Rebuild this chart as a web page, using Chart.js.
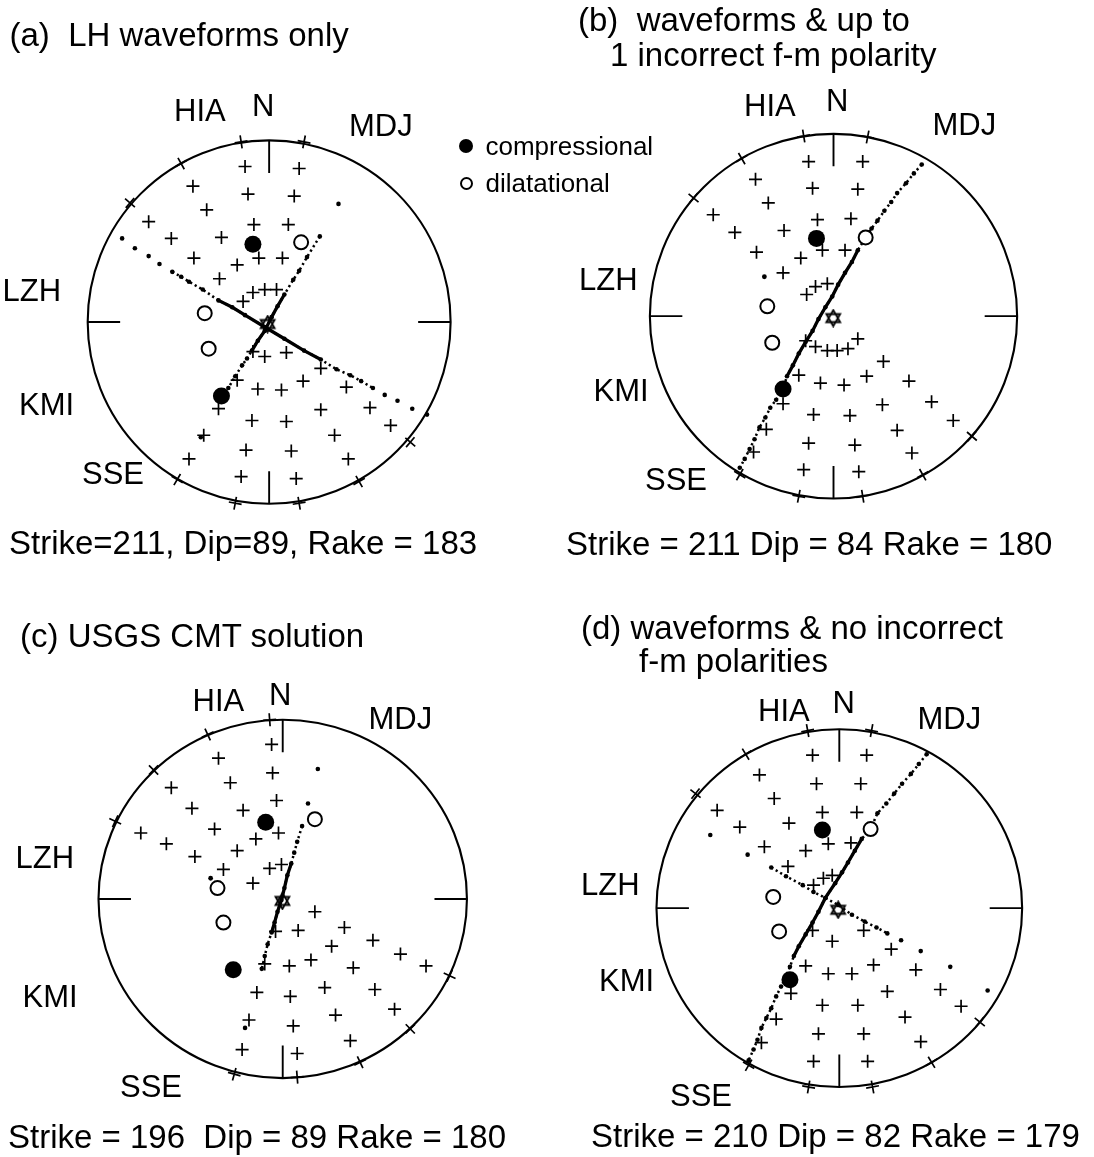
<!DOCTYPE html>
<html>
<head>
<meta charset="utf-8">
<script src="https://cdn.jsdelivr.net/npm/chart.js@4.4.0/dist/chart.umd.min.js"></script>
<style>
html,body{margin:0;padding:0;background:#fff;overflow:hidden;}
#wrap{position:relative;width:1094px;height:1157px;overflow:hidden;background:#fff;}
#c{position:absolute;left:0;top:0;}
.t{position:absolute;font-family:"Liberation Sans",Arial,Helvetica,sans-serif;color:#000;line-height:1;white-space:pre;}
.dot{position:absolute;border-radius:50%;box-sizing:border-box;}
</style>
</head>
<body>
<div id="wrap"><canvas id="c" width="1094" height="1157"></canvas></div>
<script>
// ===== DATA (projected positions of stations on each lower-hemisphere net, figure frame) =====
// Panel (a) LH waveforms only
const netA_plus = [[240,160],[295,162],[187,180],[243,188],[290,190],[201,204],[142,216],[249,219],[284,219],[216,232],[165,233],[188,253],[254,253],[278,253],[232,260],[214,274],[248,288],[260,285],[272,285],[238,297],[248,348],[260,353],[282,349],[317,365],[232,377],[253,386],[277,387],[299,378],[343,384],[213,406],[317,407],[367,405],[247,418],[282,419],[388,423],[198,433],[331,433],[241,448],[287,449],[183,457],[345,457],[236,475],[292,477]];
const netA_rim = [[236,135],[300,135],[175,157],[123,197],[171,478],[356,480],[408,440],[230,502],[295,502]];
const netA_comp = [[248,239],[216,393]];
const netA_dil = [[297,237],[199,309],[203,345]];
const netA_epic = [[263,320]];
const netA_plane1 = [[115,233],[128,243],[142,251],[153,259],[166,267],[175,272],[183,277],[197,285],[213,296],[227,303],[240,311],[260,323],[280,335],[300,347],[317,356],[333,366],[347,372],[358,378],[370,385],[382,392],[395,398],[410,406],[425,412]];
const netA_plane2 = [[335,198],[316,231],[303,252],[295,266],[289,275],[280,290],[273,302],[267,313],[260,327],[253,337],[247,347],[242,355],[237,362],[230,373],[223,385],[195,435]];
const netA_stray = [];

// Panel (b) waveforms & up to 1 incorrect f-m polarity
const netB_plus = [[813,155],[868,155],[759,173],[817,182],[863,183],[772,197],[716,209],[822,214],[856,213],[738,227],[788,225],[827,245],[850,245],[760,247],[805,253],[787,268],[820,282],[832,279],[811,290],[863,335],[810,337],[820,343],[832,347],[842,347],[853,345],[889,358],[803,372],[825,380],[849,382],[872,373],[915,378],[787,401],[888,402],[938,399],[818,412],[855,413],[960,418],[770,427],[903,428],[813,441],[860,443],[918,451],[757,450],[808,468],[864,470]];
const netB_rim = [[808,129],[873,130],[745,152],[696,192],[743,473],[929,473],[979,434],[803,495],[868,495]];
const netB_comp = [[821,233],[787,386]];
const netB_dil = [[871,232],[771,302],[776,339]];
const netB_epic = [[838,314]];
const netB_plane1 = [[928,158],[920,167],[912,177],[903,187],[897,196],[890,205],[883,215],[877,223],[871,232],[863,245],[857,257],[850,268],[843,280],[837,292],[830,303],[823,315],[817,327],[810,338],[803,350],[797,362],[791,373],[787,386],[780,397],[774,405],[769,415],[763,425],[758,437],[753,447],[748,457],[743,466]];
const netB_stray = [[768,272]];

// Panel (c) USGS CMT solution
const netC_plus = [[267,747],[213,761],[268,776],[225,786],[165,791],[272,804],[186,812],[238,814],[134,837],[209,833],[274,837],[160,848],[251,843],[232,855],[189,861],[218,874],[265,873],[277,869],[248,888],[311,917],[271,937],[294,936],[341,933],[328,952],[370,946],[398,960],[424,972],[260,970],[285,972],[307,966],[350,974],[252,999],[286,1003],[321,994],[372,996],[332,1022],[392,1016],[244,1027],[289,1033],[347,1048],[237,1057],[293,1061]];
const netC_rim = [[265,722],[202,737],[147,773],[108,825],[448,982],[408,1036],[357,1070],[229,1082],[293,1085]];
const netC_comp = [[261,826],[228,976]];
const netC_dil = [[311,823],[212,893],[218,928]];
const netC_epic = [[278,906]];
const netC_plane1 = [[314,772],[304,807],[298,830],[293,846],[290,857],[287,868],[283,880],[280,893],[277,905],[273,917],[270,928],[267,938],[263,950],[260,962],[257,975],[240,1035]];
const netC_stray = [[205,883]];

// Panel (d) waveforms & no incorrect f-m polarities
const netD_plus = [[817,758],[872,758],[763,778],[821,787],[866,787],[778,802],[720,814],[827,816],[862,816],[743,831],[793,827],[833,848],[856,847],[768,851],[810,855],[792,871],[828,883],[837,880],[818,890],[817,936],[869,936],[837,947],[897,955],[810,972],[833,980],[857,980],[879,971],[922,976],[795,1000],[893,998],[947,996],[827,1012],[863,1012],[968,1013],[780,1026],[911,1024],[823,1041],[869,1041],[927,1049],[765,1050],[818,1069],[873,1069]];
const netD_rim = [[812,733],[877,733],[749,757],[698,797],[752,1073],[938,1070],[987,1029],[813,1095],[878,1095]];
const netD_comp = [[827,834],[794,986]];
const netD_dil = [[876,833],[777,902],[783,937]];
const netD_epic = [[843,915]];
const netD_plane1 = [[933,757],[925,767],[917,777],[908,787],[900,797],[892,807],[883,817],[876,833],[867,843],[860,855],[853,867],[847,877],[840,888],[830,903],[823,917],[817,928],[810,940],[803,952],[798,962],[794,973],[790,983],[785,993],[780,1003],[775,1015],[770,1025],[765,1035],[761,1047],[757,1057],[752,1068]];
const netD_plane2 = [[713,839],[751,859],[775,872],[790,881],[807,890],[818,897],[830,903],[843,910],[857,920],[870,927],[882,933],[893,939],[907,946],[927,957],[957,973],[995,997]];
const netD_stray = [];

// Text
const titles = ["(a)  LH waveforms only", "(b)  waveforms & up to", "1 incorrect f-m polarity", "(c) USGS CMT solution", "(d) waveforms & no incorrect", "f-m polarities"];
const solutions = ["Strike=211, Dip=89, Rake = 183", "Strike = 211 Dip = 84 Rake = 180", "Strike = 196  Dip = 89 Rake = 180", "Strike = 210 Dip = 82 Rake = 179"];
const stations = ["HIA", "N", "MDJ", "LZH", "KMI", "SSE"];
const legendLabels = ["compressional", "dilatational"];

// ===== LAYOUT / STYLE =====
const NETS = [
  {cx:264.5, cy:318,   rx:184.5, ry:184.5},
  {cx:838.3, cy:312,   rx:186.7, ry:185.2},
  {cx:278.3, cy:904,   rx:187.3, ry:182},
  {cx:844.2, cy:913.3, rx:185.9, ry:181.7}
];
const TICK = 33;
const PANELS = [
  {plus:netA_plus, rim:netA_rim, comp:netA_comp, dil:netA_dil, epic:netA_epic, stray:netA_stray,
   planes:[{d:netA_plane1, dotted:[4,18], solid:[8,14]}, {d:netA_plane2, dotted:[1,14], solid:[5,10]}]},
  {plus:netB_plus, rim:netB_rim, comp:netB_comp, dil:netB_dil, epic:netB_epic, stray:netB_stray,
   planes:[{d:netB_plane1, dotted:[0,29], solid:[9,20]}]},
  {plus:netC_plus, rim:netC_rim, comp:netC_comp, dil:netC_dil, epic:netC_epic, stray:netC_stray,
   planes:[{d:netC_plane1, dotted:[2,14], solid:[5,11]}]},
  {plus:netD_plus, rim:netD_rim, comp:netD_comp, dil:netD_dil, epic:netD_epic, stray:netD_stray,
   planes:[{d:netD_plane1, dotted:[0,28], solid:[8,18]}, {d:netD_plane2, dotted:[2,11], solid:null}]}
];
// text placement: [left, baseline]
const STATION_POS = [
  [[174,121],[252,116],[349,136],[2.5,301],[19,415],[82,484]],
  [[744,116],[826,111],[932.5,135],[579,290],[593.5,401],[645,490]],
  [[192.5,711],[269,705],[368.5,729],[15.5,868],[22.5,1007],[120,1097]],
  [[758,721],[832.5,713],[917.5,729],[581,895],[599,991],[670,1106]]
];
const TITLE_POS = [[9.5,46],[578,31],[610,66],[20,647],[581,639],[639,672]];
const SOL_POS = [[9,554],[566,555],[8,1148],[591,1147]];
const LEG_POS = [[485.5,155],[485.5,192]];

function addText(txt, x, base, size){
  const d = document.createElement('div');
  d.className = 't';
  d.textContent = txt;
  d.style.fontSize = size + 'px';
  d.style.left = x + 'px';
  d.style.top = (base - 0.8465*size) + 'px';
  document.getElementById('wrap').appendChild(d);
}
titles.forEach((t,i)=>addText(t, TITLE_POS[i][0], TITLE_POS[i][1], 33));
solutions.forEach((t,i)=>addText(t, SOL_POS[i][0], SOL_POS[i][1], 33));
STATION_POS.forEach(panel => panel.forEach((p,i)=>addText(stations[i], p[0], p[1], 31)));
legendLabels.forEach((t,i)=>addText(t, LEG_POS[i][0], LEG_POS[i][1], 26));
// legend symbols
(function(){
  const w = document.getElementById('wrap');
  const f = document.createElement('div'); f.className='dot';
  Object.assign(f.style,{left:(466-7)+'px', top:(146-7)+'px', width:'14px', height:'14px', background:'#000'});
  const o = document.createElement('div'); o.className='dot';
  Object.assign(o.style,{left:(466-6.5)+'px', top:(183-6.5)+'px', width:'13px', height:'13px', border:'2px solid #000', background:'#fff'});
  w.appendChild(f); w.appendChild(o);
})();

function hexagram(size){
  const c = document.createElement('canvas');
  c.width = size; c.height = size;
  const g = c.getContext('2d');
  const m = size/2, r = size/2 - 1.5;
  g.strokeStyle = '#000'; g.lineWidth = 1.8;
  for (let k=0;k<2;k++){
    g.beginPath();
    for (let i=0;i<3;i++){
      const a = -Math.PI/2 + k*Math.PI + i*2*Math.PI/3;
      const px = m + r*Math.cos(a), py = m + r*Math.sin(a);
      if (i) g.lineTo(px,py); else g.moveTo(px,py);
    }
    g.closePath(); g.stroke();
  }
  return c;
}
const STAR = hexagram(19);

const xy = a => a.map(p => ({x:p[0], y:p[1]}));
const datasets = [];
PANELS.forEach((P, k) => {
  P.planes.forEach(pl => {
    datasets.push({data: xy(pl.d), showLine:false, pointStyle:'circle', pointRadius:2.3, pointBackgroundColor:'#000', pointBorderWidth:0, order:6});
    if (pl.dotted) datasets.push({data: xy(pl.d.slice(pl.dotted[0], pl.dotted[1]+1)), showLine:true, borderColor:'#000', borderWidth:2.5, borderDash:[2.2,3], pointRadius:0, order:6});
    if (pl.solid) datasets.push({data: xy(pl.d.slice(pl.solid[0], pl.solid[1]+1)), showLine:true, borderColor:'#000', borderWidth:3.3, pointRadius:0, order:6});
  });
  if (P.stray.length) datasets.push({data: xy(P.stray), pointStyle:'circle', pointRadius:2.4, pointBackgroundColor:'#000', pointBorderWidth:0, order:6});
  const N = NETS[k];
  datasets.push({data: xy(P.rim), pointStyle:'cross', pointRadius:6.5, pointBorderColor:'#000', pointBorderWidth:1.7,
    pointRotation: ctx => ctx.raw ? Math.atan2(ctx.raw.y - N.cy, ctx.raw.x - N.cx)*180/Math.PI : 0, order:4});
});
datasets.push({data: xy([].concat(netA_plus, netB_plus, netC_plus, netD_plus)), pointStyle:'cross', pointRadius:6.5, pointBorderColor:'#000', pointBorderWidth:1.7, order:4});
datasets.push({data: xy([].concat(netA_epic, netB_epic, netC_epic, netD_epic)), pointStyle:STAR, order:3});
datasets.push({data: xy([].concat(netA_comp, netB_comp, netC_comp, netD_comp)), pointStyle:'circle', pointRadius:8.5, pointBackgroundColor:'#000', pointBorderWidth:0, order:1});
datasets.push({data: xy([].concat(netA_dil, netB_dil, netC_dil, netD_dil)), pointStyle:'circle', pointRadius:7, pointBackgroundColor:'#fff', pointBorderColor:'#000', pointBorderWidth:2, order:1});

const netPlugin = {
  id:'nets',
  beforeDatasetsDraw(chart){
    const ctx = chart.ctx, xs = chart.scales.x, ys = chart.scales.y;
    ctx.save();
    ctx.strokeStyle = '#000';
    NETS.forEach(n => {
      const cx = xs.getPixelForValue(n.cx), cy = ys.getPixelForValue(n.cy);
      const rx = Math.abs(xs.getPixelForValue(n.cx + n.rx) - cx);
      const ry = Math.abs(ys.getPixelForValue(n.cy + n.ry) - cy);
      const tx = Math.abs(xs.getPixelForValue(n.cx + TICK) - cx);
      const ty = Math.abs(ys.getPixelForValue(n.cy + TICK) - cy);
      ctx.lineWidth = 2.1;
      ctx.beginPath(); ctx.ellipse(cx, cy, rx, ry, 0, 0, Math.PI*2); ctx.stroke();
      ctx.lineWidth = 1.9;
      ctx.beginPath();
      ctx.moveTo(cx, cy - ry); ctx.lineTo(cx, cy - ry + ty);
      ctx.moveTo(cx, cy + ry); ctx.lineTo(cx, cy + ry - ty);
      ctx.moveTo(cx - rx, cy); ctx.lineTo(cx - rx + tx, cy);
      ctx.moveTo(cx + rx, cy); ctx.lineTo(cx + rx - tx, cy);
      ctx.stroke();
    });
    ctx.restore();
  }
};

new Chart(document.getElementById('c'), {
  type:'scatter',
  data:{datasets},
  options:{
    responsive:false, animation:false, devicePixelRatio:1, events:[],
    layout:{padding:0},
    scales:{
      x:{type:'linear', min:0, max:1094, display:false},
      y:{type:'linear', min:0, max:1157, reverse:true, display:false}
    },
    plugins:{legend:{display:false}, tooltip:{enabled:false}},
    elements:{line:{tension:0}}
  },
  plugins:[netPlugin]
});
</script>
</body>
</html>
